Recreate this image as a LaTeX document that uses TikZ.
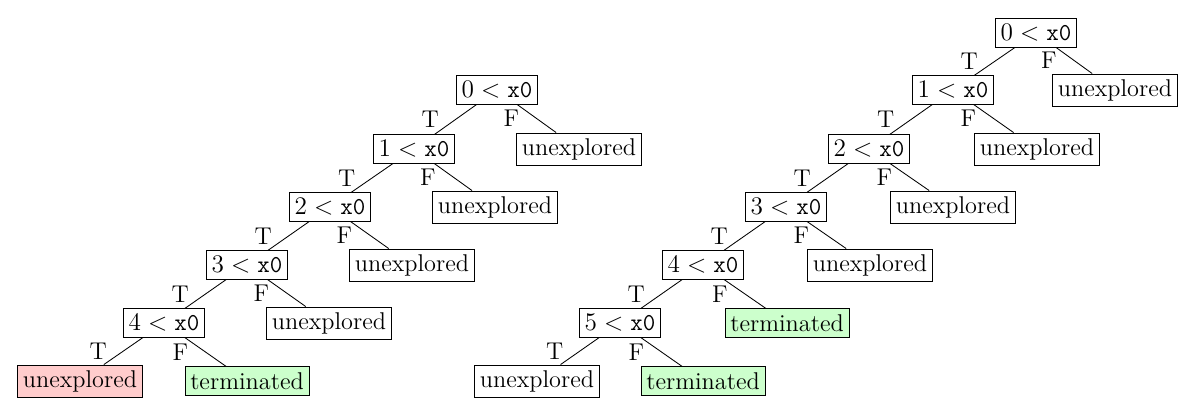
\documentclass[tikz,border=0pt]{standalone}
\begin{document}
\begin{tikzpicture}[x=0.016667cm,y=-0.016667cm,
  b/.style={draw,rectangle,inner sep=2.5pt,minimum height=0.47cm,font=\fontsize{11.5}{13}\selectfont},
  lb/.style={midway,xshift=-0.42cm,font=\fontsize{11.5}{13}\selectfont,inner sep=0pt},
  red/.style={b,fill=red!20}, grn/.style={b,fill=green!20}]
\useasboundingbox (0,0) rectangle (1200,417);
% left tree
\node[b] (a0) at (497,90) {$0 < \texttt{x0}$};
\node[b] (a1) at (414,149) {$1 < \texttt{x0}$};
\node[b] (a2) at (330,207) {$2 < \texttt{x0}$};
\node[b] (a3) at (247,265) {$3 < \texttt{x0}$};
\node[b] (a4) at (164,323) {$4 < \texttt{x0}$};
\node[b] (u0) at (579,149) {unexplored};
\node[b] (u1) at (495,207) {unexplored};
\node[b] (u2) at (412,265) {unexplored};
\node[b] (u3) at (329,323) {unexplored};
\node[red] (ur) at (80,381) {unexplored};
\node[grn] (t0) at (247,381) {terminated};
\foreach \p/\c/\l in {a0/a1/T,a0/u0/F,a1/a2/T,a1/u1/F,a2/a3/T,a2/u2/F,a3/a4/T,a3/u3/F,a4/ur/T,a4/t0/F}
  \draw (\p) -- node[lb]{\l} (\c);
% right tree
\node[b] (b0) at (1036,33) {$0 < \texttt{x0}$};
\node[b] (b1) at (953,90) {$1 < \texttt{x0}$};
\node[b] (b2) at (869,149) {$2 < \texttt{x0}$};
\node[b] (b3) at (786,207) {$3 < \texttt{x0}$};
\node[b] (b4) at (703,265) {$4 < \texttt{x0}$};
\node[b] (b5) at (620,323) {$5 < \texttt{x0}$};
\node[b] (v0) at (1115,90) {unexplored};
\node[b] (v1) at (1037,149) {unexplored};
\node[b] (v2) at (953,207) {unexplored};
\node[b] (v3) at (870,265) {unexplored};
\node[grn] (s0) at (787,323) {terminated};
\node[b] (v5) at (537,381) {unexplored};
\node[grn] (s1) at (703,381) {terminated};
\foreach \p/\c/\l in {b0/b1/T,b0/v0/F,b1/b2/T,b1/v1/F,b2/b3/T,b2/v2/F,b3/b4/T,b3/v3/F,b4/b5/T,b4/s0/F,b5/v5/T,b5/s1/F}
  \draw (\p) -- node[lb]{\l} (\c);
\end{tikzpicture}
\end{document}
